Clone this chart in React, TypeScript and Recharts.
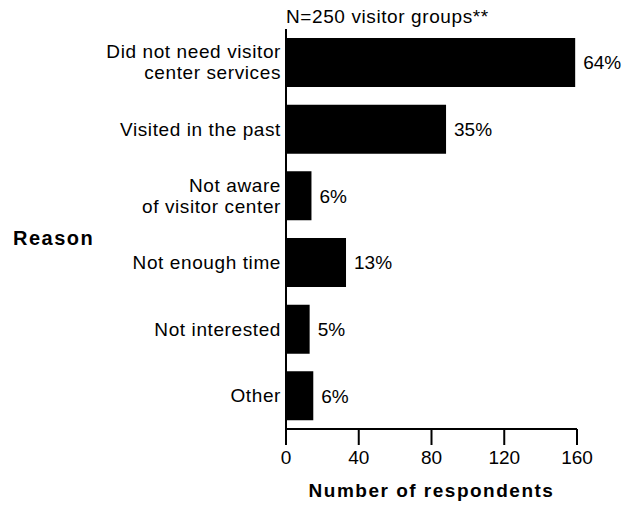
import { BarChart, Bar, XAxis, YAxis, LabelList, Label } from "recharts";

const reasons = [
  "Did not need visitor\ncenter services",
  "Visited in the past",
  "Not aware\nof visitor center",
  "Not enough time",
  "Not interested",
  "Other",
];
const respondents = [159, 88, 14, 33, 13, 15];
const percentLabels = ["64%", "35%", "6%", "13%", "5%", "6%"];
const xTicks = [0, 40, 80, 120, 160];

const FONT = '"Liberation Sans", Arial, sans-serif';

const chartData = reasons.map((name, i) => ({
  name,
  count: respondents[i],
  pct: percentLabels[i],
}));

function ReasonTick(props: any) {
  const { x, y, payload } = props;
  const lines = String(payload.value).split("\n");
  return (
    <g>
      {lines.map((line, i) => (
        <text
          key={i}
          x={x}
          y={y + (i - (lines.length - 1) / 2) * 21}
          dy="0.35em"
          textAnchor="end"
          fill="#000"
          fontSize={19}
          fontFamily={FONT}
          letterSpacing={0.6}
        >
          {line}
        </text>
      ))}
    </g>
  );
}

export default function App() {
  return (
    <div style={{ position: "absolute", left: 0, top: 0, width: 628, height: 506, background: "#fff" }}>
      <BarChart
        width={628}
        height={506}
        layout="vertical"
        data={chartData}
        margin={{ top: 29, right: 51, bottom: 0, left: 0 }}
      >
        <XAxis
          type="number"
          domain={[0, 160]}
          ticks={xTicks}
          height={77}
          tickSize={16}
          tickMargin={6}
          axisLine={{ stroke: "#000", strokeWidth: 2 }}
          tickLine={{ stroke: "#000", strokeWidth: 2 }}
          tick={{ fill: "#000", fontSize: 19, fontFamily: FONT }}
        >
          <Label
            content={({ viewBox }: any) => (
              <text
                x={viewBox.x + viewBox.width / 2}
                y={viewBox.y + 68}
                textAnchor="middle"
                fontWeight="bold"
                fontSize={19}
                fontFamily={FONT}
                letterSpacing={1.5}
                fill="#000"
              >
                Number of respondents
              </text>
            )}
          />
        </XAxis>
        <YAxis
          type="category"
          dataKey="name"
          width={286}
          tickSize={0}
          tickMargin={5}
          tickLine={false}
          axisLine={{ stroke: "#000", strokeWidth: 2 }}
          tick={<ReasonTick />}
          interval={0}
        >
          <Label
            content={({ viewBox }: any) => (
              <text
                x={viewBox.x + 13}
                y={viewBox.y + viewBox.height / 2 + 16}
                textAnchor="start"
                fontWeight="bold"
                fontSize={20}
                fontFamily={FONT}
                letterSpacing={1.5}
                fill="#000"
              >
                Reason
              </text>
            )}
          />
        </YAxis>
        <Bar dataKey="count" fill="#000" barSize={49} isAnimationActive={false}>
          <LabelList
            dataKey="pct"
            position="right"
            offset={8}
            fill="#000"
            fontSize={19}
            fontFamily={FONT}
          />
        </Bar>
      </BarChart>
      <svg width={628} height={30} style={{ position: "absolute", left: 0, top: 0 }}>
        <text x={286} y={23} fontSize={19} fontFamily={FONT} fill="#000" letterSpacing={0.6}>
          N=250 visitor groups**
        </text>
      </svg>
    </div>
  );
}
